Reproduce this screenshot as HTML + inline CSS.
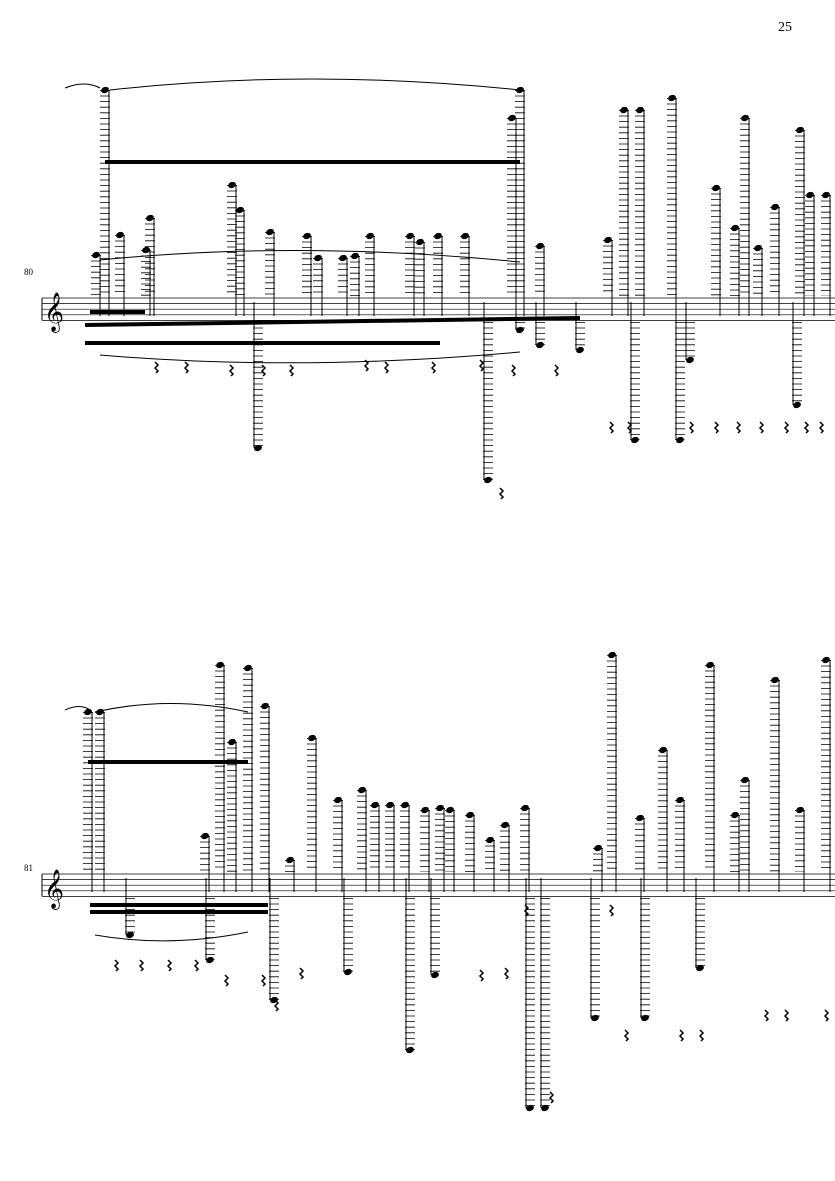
<!DOCTYPE html>
<html><head><meta charset="utf-8"><style>
html,body{margin:0;padding:0;background:#fff;}
svg{display:block;}
</style></head><body>
<svg id="s" width="835" height="1181" xmlns="http://www.w3.org/2000/svg">
<text x="778" y="31" font-family="Liberation Serif, serif" font-size="14">25</text>
<text x="24" y="275" font-family="Liberation Serif, serif" font-size="9">80</text>
<text x="24" y="871" font-family="Liberation Serif, serif" font-size="9">81</text>
<text x="44" y="323" font-family="DejaVu Serif, serif" font-size="34">𝄞</text>
<text x="44" y="900" font-family="DejaVu Serif, serif" font-size="34">𝄞</text>
</svg>
<script>
var s=document.getElementById('s'),ns='http://www.w3.org/2000/svg';
function el(t,a){var e=document.createElementNS(ns,t);for(var k in a)e.setAttribute(k,a[k]);s.appendChild(e);return e;}
function staff(y){for(var i=0;i<5;i++)el('line',{x1:42,x2:835,y1:y+i*5.6,y2:y+i*5.6,stroke:'#000','stroke-width':0.7});el('line',{x1:42,x2:42,y1:y,y2:y+22.4,stroke:'#000','stroke-width':1});}
staff(298);staff(874);
function up(x,top,base){ // note above staff, ladder down to staff
 el('line',{x1:x,x2:x,y1:top,y2:base,stroke:'#000','stroke-width':10,'stroke-dasharray':'0.8 4.8'});
 el('line',{x1:x+4,x2:x+4,y1:top,y2:base+20,stroke:'#000','stroke-width':1});
 el('ellipse',{cx:x,cy:top,rx:4,ry:3,fill:'#000',transform:'rotate(-20 '+x+' '+top+')'});
}
function dn(x,bot,base){
 el('line',{x1:x,x2:x,y1:base,y2:bot,stroke:'#000','stroke-width':10,'stroke-dasharray':'0.8 4.8'});
 el('line',{x1:x-4,x2:x-4,y1:base-20,y2:bot,stroke:'#000','stroke-width':1});
 el('ellipse',{cx:x,cy:bot,rx:4,ry:3,fill:'#000',transform:'rotate(-20 '+x+' '+bot+')'});
}
function rest(x,y){el('path',{d:'M'+x+' '+y+' l3 3 l-3 3 l3 3 l-2 2',stroke:'#000','stroke-width':1.5,fill:'none'});}
function beam(x1,y1,x2,y2){el('line',{x1:x1,y1:y1,x2:x2,y2:y2,stroke:'#000','stroke-width':4});}
// system 1
[[105,90],[520,90],[512,118],[150,218],[232,185],[240,210],[270,232],[307,236],[318,258],[343,258],[355,256],[370,236],[410,236],[420,242],[438,236],[465,236],[540,246],[608,240],[624,110],[640,110],[672,98],[716,188],[735,228],[745,118],[758,248],[775,207],[800,130],[810,195],[826,195],[96,255],[120,235],[146,250]].forEach(function(n){up(n[0],n[1],296);});
[[258,448],[488,480],[635,440],[680,440],[797,405],[690,360],[540,345],[580,350],[520,330]].forEach(function(n){dn(n[0],n[1],322);});
beam(105,162,520,162);beam(85,325,580,318);beam(85,343,440,343);beam(90,312,145,312);
el('path',{d:'M65 88 Q85 80 100 88',stroke:'#000',fill:'none'});
el('path',{d:'M110 90 Q310 68 520 90',stroke:'#000',fill:'none'});
el('path',{d:'M100 260 Q300 240 520 262',stroke:'#000',fill:'none'});
el('path',{d:'M100 355 Q300 372 520 352',stroke:'#000',fill:'none'});
[[155,362],[185,362],[230,365],[262,365],[290,365],[365,360],[385,362],[432,362],[480,360],[512,365],[555,365],[610,422],[628,422],[690,422],[715,422],[737,422],[760,422],[785,422],[805,422],[820,422],[500,488]].forEach(function(r){rest(r[0],r[1]);});
// system 2
[[88,712],[100,712],[248,668],[220,665],[205,836],[232,742],[265,706],[312,738],[290,860],[338,800],[362,790],[375,805],[390,805],[405,805],[425,810],[440,808],[450,810],[470,815],[490,840],[505,825],[525,808],[598,848],[612,655],[640,818],[663,750],[680,800],[710,665],[735,815],[745,780],[775,680],[800,810],[826,660]].forEach(function(n){up(n[0],n[1],872);});
[[348,972],[410,1050],[545,1108],[530,1108],[595,1018],[645,1018],[700,968],[274,1000],[210,960],[435,975],[130,935]].forEach(function(n){dn(n[0],n[1],898);});
beam(88,762,248,762);beam(90,905,268,905);beam(90,912,268,912);
el('path',{d:'M65 710 Q80 703 90 710',stroke:'#000',fill:'none'});
el('path',{d:'M95 712 Q170 695 248 712',stroke:'#000',fill:'none'});
el('path',{d:'M95 935 Q170 948 248 932',stroke:'#000',fill:'none'});
[[115,960],[140,960],[168,960],[195,960],[225,975],[262,975],[300,968],[480,970],[505,968],[525,905],[610,905],[625,1030],[680,1030],[700,1030],[765,1010],[785,1010],[825,1010],[550,1092],[275,1000]].forEach(function(r){rest(r[0],r[1]);});
</script>
</body></html>
